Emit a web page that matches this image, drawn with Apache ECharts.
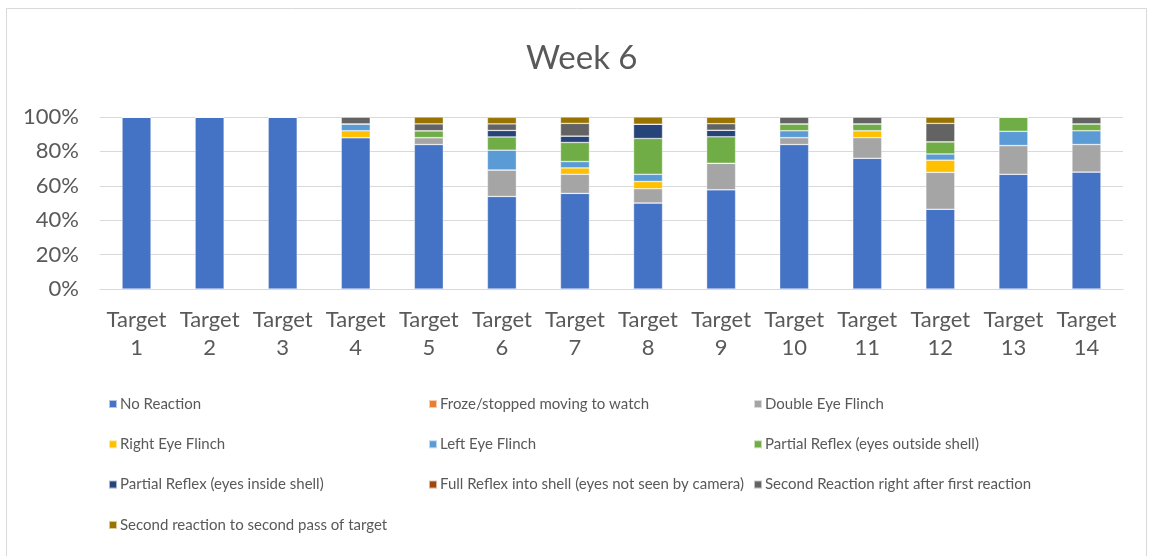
<!DOCTYPE html>
<html>
<head>
<meta charset="utf-8">
<script src="https://cdn.jsdelivr.net/npm/echarts@6/dist/echarts.min.js"></script>
<style>
  html, body { margin: 0; padding: 0; background: #fff; }
  #chart { width: 1153px; height: 556px; }
</style>
</head>
<body>
<div id="chart"></div>
<script>
// categories
var targets = ['Target\n1', 'Target\n2', 'Target\n3', 'Target\n4', 'Target\n5', 'Target\n6', 'Target\n7',
               'Target\n8', 'Target\n9', 'Target\n10', 'Target\n11', 'Target\n12', 'Target\n13', 'Target\n14'];

// share of each reaction per target (%)
var noReaction   = [100, 100, 100, 88, 84, 53.8, 55.6, 50, 57.7, 84, 76, 46.4, 66.7, 68];
var froze        = [0, 0, 0, 0, 0, 0, 0, 0, 0, 0, 0, 0, 0, 0];
var doubleEye    = [0, 0, 0, 0, 4, 15.4, 11.1, 8.3, 15.4, 4, 12, 21.4, 16.7, 16];
var rightEye     = [0, 0, 0, 4, 0, 0, 3.7, 4.2, 0, 0, 4, 7.1, 0, 0];
var leftEye      = [0, 0, 0, 4, 0, 11.5, 3.7, 4.2, 0, 4, 0, 3.6, 8.3, 8];
var partialOut   = [0, 0, 0, 0, 4, 7.7, 11.1, 20.8, 15.4, 4, 4, 7.1, 8.3, 4];
var partialIn    = [0, 0, 0, 0, 0, 3.8, 3.7, 8.3, 3.8, 0, 0, 0, 0, 0];
var fullReflex   = [0, 0, 0, 0, 0, 0, 0, 0, 0, 0, 0, 0, 0, 0];
var secondRight  = [0, 0, 0, 4, 4, 3.8, 7.4, 0, 3.8, 4, 4, 10.7, 0, 4];
var secondPass   = [0, 0, 0, 0, 4, 3.8, 3.7, 4.2, 3.8, 0, 0, 3.6, 0, 0];

var names = ['No Reaction', 'Froze/stopped moving to watch', 'Double Eye Flinch', 'Right Eye Flinch',
             'Left Eye Flinch', 'Partial Reflex (eyes outside shell)', 'Partial Reflex (eyes inside shell)',
             'Full Reflex into shell (eyes not seen by camera)', 'Second Reaction right after first reaction',
             'Second reaction to second pass of target'];
var values = [noReaction, froze, doubleEye, rightEye, leftEye, partialOut, partialIn, fullReflex, secondRight, secondPass];
var colors = ['#4472C4', '#ED7D31', '#A5A5A5', '#FFC000', '#5B9BD5', '#70AD47', '#264478', '#9E480E', '#636363', '#997300'];

var font = 'Lato, "Open Sans", sans-serif';

var chart = echarts.init(document.getElementById('chart'));

var series = [];
for (var i = 0; i < names.length; i++) {
    series.push({
        name: names[i],
        type: 'bar',
        stack: 'total',
        barWidth: 29,
        data: values[i],
        itemStyle: { color: colors[i], borderColor: 'rgba(255,255,255,0.6)', borderWidth: 0.6 }
    });
}

// legend laid out as three columns like the original
function legendCol(left, items) {
    return {
        orient: 'vertical',
        left: left,
        top: 391,
        itemWidth: 8,
        itemHeight: 8,
        itemGap: 24.3,
        icon: 'rect',
        data: items,
        textStyle: { fontFamily: font, fontSize: 15, color: '#595959', lineHeight: 16, padding: [0, 0, 0, -2] }
    };
}

var option = {
    animation: false,
    title: {
        text: 'Week 6',
        left: 521,
        top: 37,
        textStyle: { fontFamily: font, fontSize: 33, fontWeight: 'normal', color: '#595959' }
    },
    graphic: [{
        type: 'rect',
        shape: { x: 6.5, y: 8.5, width: 1140, height: 560 },
        style: { fill: 'none', stroke: '#d9d9d9', lineWidth: 1 }
    }],
    legend: [
        legendCol(103, [names[0], names[3], names[6], names[9]]),
        legendCol(423, [names[1], names[4], names[7]]),
        legendCol(748, [names[2], names[5], names[8]])
    ],
    grid: { left: 100, right: 30, top: 117, bottom: 267 },
    xAxis: {
        type: 'category',
        data: targets,
        axisLine: { lineStyle: { color: '#d9d9d9' } },
        axisTick: { show: false },
        axisLabel: { fontFamily: font, fontSize: 22, color: '#595959', lineHeight: 28, margin: 17, interval: 0 }
    },
    yAxis: {
        type: 'value',
        min: 0,
        max: 100,
        interval: 20,
        axisLabel: { formatter: '{value}%', fontFamily: font, fontSize: 22, color: '#595959', margin: 21 },
        splitLine: { lineStyle: { color: '#d9d9d9' } }
    },
    series: series
};

chart.setOption(option);
</script>
</body>
</html>
